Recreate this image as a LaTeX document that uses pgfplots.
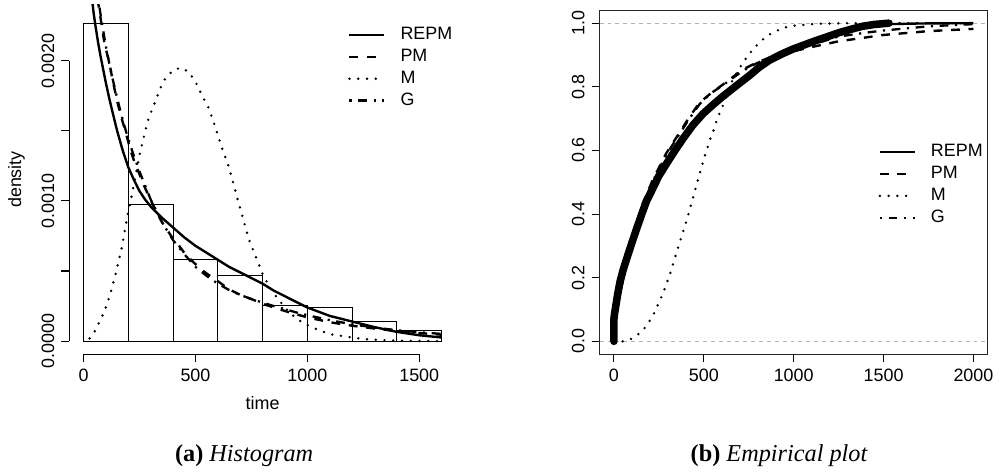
\documentclass[border=0pt]{standalone}
\usepackage{fontspec}
\setmainfont{Liberation Sans}
\newfontfamily\capfont{Liberation Serif}
\usepackage{pgfplots}
\pgfplotsset{compat=1.18}
\begin{document}
\begin{tikzpicture}
\pgfplotsset{
  rstyle/.style={
    scale only axis,
    font=\fontsize{9pt}{10.8pt}\selectfont,
    tick align=outside,
    tick pos=left,
    major tick length=4pt,
    tick style={black, line width=0.55pt},
    scaled ticks=false,
    legend cell align=left,
    legend image code/.code={\draw[##1] (0pt,-1pt) -- (17.5pt,-1pt);},
    legend style={draw=none, fill=none, anchor=north west, inner sep=0pt, outer sep=0pt,
      row sep=4.5pt, column sep=7.5pt, font=\fontsize{9pt}{10.8pt}\selectfont,
      nodes={inner sep=0pt, text height=6.5pt, text depth=0pt}},
    yticklabel style={rotate=90, anchor=south},
    xticklabel style={anchor=north},
  },
  repm/.style={black, line width=1.2pt},
  pm/.style={black, line width=1.2pt, dash pattern=on 4.4pt off 4.4pt},
  mm/.style={black, line width=1.35pt, line cap=round, dash pattern=on 0pt off 4.4pt},
  gg/.style={black, line width=1.15pt, dash pattern=on 1.1pt off 3.3pt on 4.4pt off 3.3pt},
}
% ---------------- left: histogram ----------------
\begin{axis}[rstyle, at={(34.8pt,60.5pt)}, anchor=south west,
  width=194.4pt, height=175.5pt,
  xmin=-64, xmax=1664, ymin=-0.0000922, ymax=0.002397,
  axis x line*=bottom, axis y line*=left, axis line style={draw=none},
  clip mode=individual,
  xtick={0,500,1000,1500}, xticklabels={0,500,1000,1500},
  ytick={0,0.0005,0.001,0.0015,0.002}, yticklabels={0.0000,,0.0010,,0.0020},
  legend style={at={(axis description cs:0.7212,0.9382)}}]
\addplot[ybar interval, draw=black, fill=none, line width=0.45pt, forget plot] coordinates {
(0,0.002267) (200,0.000972) (400,0.000586) (600,0.000468) (800,0.000258)
(1000,0.000239) (1200,0.000140) (1400,0.000073) (1600,0.000073)};
\addplot[repm] coordinates {
(38,0.00244) (45,0.00234) (55,0.00223) (65,0.00213) (75,0.00204) (90,0.00192)
(100,0.00184) (115,0.00173) (130,0.00163) (150,0.00150) (175,0.00136) (200,0.00124)
(225,0.00115) (250,0.00107) (275,0.00101) (300,0.00096) (350,0.00088) (400,0.00081)
(450,0.00074) (500,0.00068) (550,0.00063) (600,0.00058) (650,0.00053) (700,0.00049)
(750,0.00045) (800,0.00041) (850,0.00036) (900,0.00032) (950,0.00028) (1000,0.00024)
(1100,0.00018) (1200,0.00014) (1300,0.00010) (1400,0.000066) (1500,0.000042) (1600,0.000026)};
\addlegendentry{REPM}
\addplot[pm] coordinates {
(62,0.00244) (71,0.00236) (80,0.00226) (93,0.00213) (105,0.00205) (116,0.00198)
(130,0.00186) (152,0.00170) (170,0.00159) (190,0.00148) (210,0.00136) (227,0.00128)
(250,0.00119) (264,0.00113) (293,0.00103) (323,0.00093) (350,0.00085) (375,0.00079)
(400,0.00073) (427,0.00068) (450,0.00063) (486,0.00057) (530,0.000505) (570,0.00046)
(604,0.000423) (650,0.00037) (700,0.00033) (750,0.00030) (812,0.00026) (870,0.00023)
(930,0.00020) (1000,0.00017) (1100,0.000135) (1200,0.000110) (1300,0.000090)
(1400,0.000073) (1500,0.000058) (1600,0.000046)};
\addlegendentry{PM}
\addplot[mm] coordinates {
(27,0.00002) (50,0.00007) (75,0.00015) (93,0.00021) (120,0.00034) (145,0.00049)
(170,0.00066) (197,0.00090) (212,0.00101) (230,0.00116) (249,0.00132) (264,0.00142)
(285,0.00156) (301,0.00163) (323,0.00172) (350,0.00183) (368,0.00188) (400,0.00193)
(434,0.00195) (470,0.00192) (500,0.00185) (530,0.00175) (560,0.00166) (590,0.00152)
(620,0.00137) (650,0.00124) (680,0.00106) (710,0.00089) (738,0.00073) (770,0.00060)
(800,0.00048) (830,0.00039) (860,0.00032) (900,0.00024) (930,0.00019) (980,0.00013)
(1034,0.00009) (1100,0.00005) (1182,0.00003) (1250,0.000015) (1330,0.000008)
(1450,0.000002) (1600,0.0)};
\addlegendentry{M}
\addplot[gg] coordinates {
(66,0.00244) (75,0.00234) (85,0.00224) (100,0.00210) (120,0.00194) (140,0.00180)
(160,0.00167) (180,0.00155) (200,0.00144) (225,0.00132) (250,0.00121) (275,0.00111)
(300,0.00101) (325,0.00093) (350,0.00085) (400,0.00072) (450,0.00062) (500,0.00053)
(550,0.000465) (600,0.00041) (650,0.000365) (700,0.00033) (750,0.00030) (800,0.000275)
(850,0.00025) (900,0.000228) (950,0.000205) (1000,0.000185) (1100,0.000150)
(1200,0.000120) (1300,0.000097) (1400,0.000078) (1500,0.000063) (1600,0.000052)};
\addlegendentry{G}
\draw[black, line width=0.55pt] (axis cs:0,-0.0000922) -- (axis cs:1500,-0.0000922);
\draw[black, line width=0.55pt] (axis cs:-64,0) -- (axis cs:-64,0.002);
\node[rotate=90] at (axis description cs:-0.1363,0.5) {density};
\node at (axis description cs:0.5,-0.1396) {time};
\end{axis}
% ---------------- right: empirical ----------------
\begin{axis}[rstyle, at={(301.4pt,60.5pt)}, anchor=south west,
  width=195.2pt, height=172.75pt,
  xmin=-80, xmax=2080, ymin=-0.04, ymax=1.04,
  axis line style={black!85, line width=0.55pt},
  xtick={0,500,1000,1500,2000}, xticklabels={0,500,1000,1500,2000},
  ytick={0,0.2,0.4,0.6,0.8,1}, yticklabels={0.0,0.2,0.4,0.6,0.8,1.0},
  legend style={at={(axis description cs:0.7185,0.6124)}}]
\addplot[gray!60, line width=0.4pt, dash pattern=on 2pt off 2pt, forget plot] coordinates {(-80,0) (2080,0)};
\addplot[gray!60, line width=0.4pt, dash pattern=on 2pt off 2pt, forget plot] coordinates {(-80,1) (2080,1)};
\addplot[black, line width=3.8pt, line cap=round, line join=round, forget plot] coordinates {
(0,0.0) (0,0.07) (3,0.085) (10,0.11) (20,0.145) (33,0.185) (50,0.222) (70,0.258)
(100,0.31) (130,0.36) (160,0.408) (181,0.44) (220,0.485) (250,0.52) (292,0.558)
(340,0.600) (384,0.637) (440,0.68) (495,0.715) (550,0.743) (606,0.770) (680,0.803)
(753,0.835) (810,0.862) (864,0.883) (930,0.902) (993,0.918) (1060,0.932) (1122,0.945)
(1190,0.958) (1251,0.970) (1320,0.981) (1381,0.990) (1450,0.996) (1530,1.0)};
\addplot[repm] coordinates {
(0,0.0) (0,0.07) (3,0.085) (10,0.11) (20,0.145) (33,0.185) (50,0.222) (70,0.258)
(100,0.31) (130,0.36) (160,0.408) (181,0.44) (220,0.485) (250,0.52) (292,0.558)
(340,0.600) (384,0.637) (440,0.68) (495,0.715) (550,0.743) (606,0.770) (680,0.803)
(753,0.835) (810,0.862) (864,0.883) (930,0.902) (993,0.918) (1060,0.932) (1122,0.945)
(1190,0.958) (1251,0.970) (1320,0.981) (1381,0.990) (1450,0.995) (1530,0.997)
(1700,0.999) (2000,1.0)};
\addlegendentry{REPM}
\addplot[pm] coordinates {
(0,0) (5,0.04) (15,0.09) (30,0.14) (60,0.22) (100,0.31) (150,0.42) (218,0.51)
(290,0.59) (365,0.656) (420,0.705) (476,0.75) (540,0.78) (606,0.807) (716,0.854)
(790,0.875) (880,0.895) (1000,0.912) (1100,0.925) (1250,0.943) (1400,0.955)
(1500,0.963) (1750,0.975) (2000,0.982)};
\addlegendentry{PM}
\addplot[mm] coordinates {
(0,0) (52,0.0) (98,0.008) (140,0.024) (176,0.045) (203,0.068) (227,0.092) (247,0.118)
(268,0.144) (286,0.171) (303,0.198) (320,0.225) (334,0.253) (349,0.28) (364,0.307)
(379,0.334) (394,0.361) (409,0.388) (422,0.416) (437,0.444) (449,0.47) (476,0.525)
(504,0.58) (535,0.635) (554,0.663) (569,0.689) (587,0.716) (606,0.741) (661,0.823)
(720,0.878) (772,0.917) (820,0.945) (864,0.964) (938,0.985) (1000,0.992) (1122,0.998)
(1300,1.0) (2000,1.0)};
\addlegendentry{M}
\addplot[gg] coordinates {
(0,0) (5,0.04) (15,0.09) (30,0.14) (60,0.22) (100,0.31) (150,0.415) (218,0.505)
(290,0.585) (365,0.652) (420,0.70) (476,0.745) (540,0.78) (606,0.805) (716,0.85)
(790,0.873) (880,0.895) (1000,0.915) (1100,0.932) (1250,0.958) (1400,0.970)
(1500,0.977) (1750,0.99) (2000,0.997)};
\addlegendentry{G}
\node[rotate=90] at (axis description cs:-0.1276,0.5) {cumulative distribution function};
\node at (axis description cs:0.5,-0.1418) {time};
\end{axis}
\node[anchor=base, font=\capfont\fontsize{12.2pt}{14pt}\selectfont] at (122.75pt,6.5pt) {\textbf{(a)} \textit{Histogram}};
\node[anchor=base, font=\capfont\fontsize{12.2pt}{14pt}\selectfont] at (391.75pt,6.5pt) {\textbf{(b)} \textit{Empirical plot}};
\path[use as bounding box] (0pt,0pt) rectangle (500pt,238.5pt);
\end{tikzpicture}
\end{document}
